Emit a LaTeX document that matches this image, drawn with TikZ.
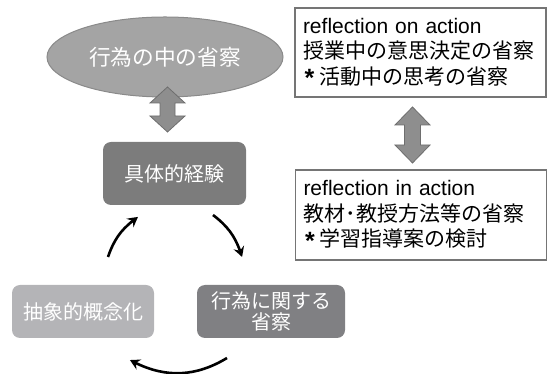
\documentclass[tikz,border=0pt]{standalone}
\usepackage{fontspec}
\setmainfont{Liberation Sans}
\newfontfamily\jp{Noto Sans CJK JP}
\usetikzlibrary{shapes.geometric,arrows.meta,bending}
\definecolor{ellfill}{HTML}{A4A4A4}
\definecolor{ellline}{HTML}{8A8A8A}
\definecolor{darkbox}{HTML}{7C7C7C}
\definecolor{midbox}{HTML}{808083}
\definecolor{lightbox}{HTML}{B4B4B7}
\definecolor{barrowfill}{HTML}{8E8E8E}
\definecolor{barrowline}{HTML}{6E6E6E}
\definecolor{frameline}{HTML}{757575}
\newcommand{\myast}{\makebox[16pt][l]{\hspace{1.5pt}\raisebox{-2.5pt}{\fontsize{25}{25}\selectfont\bfseries *}}}
\tikzset{
  ellnode/.style={ellipse, fill=ellfill, draw=ellline, line width=1pt, inner sep=0pt,
    minimum width=236pt, minimum height=80pt, text=white,
    font=\jp\fontsize{21.7}{24}\selectfont},
  greybox/.style={rectangle, rounded corners=8pt, inner sep=0pt, text=white,
    font=\jp\fontsize{20}{20.5}\selectfont, align=center},
  framebox/.style={rectangle, draw=frameline, line width=1.2pt, fill=white,
    inner xsep=8pt, inner ysep=0pt, text width=235pt, align=left,
    font=\fontsize{21}{25.5}\selectfont},
  blockarrow/.style={fill=barrowfill, draw=barrowline, line width=0.8pt, line join=miter},
  cyclearrow/.style={line width=2.6pt, black, -{Stealth[length=10pt,width=11pt,inset=3.5pt,bend]}},
}
\begin{document}
\begin{tikzpicture}[x=1pt,y=1pt]
\useasboundingbox (0,0) rectangle (548,374);
% nodes
\node[ellnode] (ell) at (165,317) {行為の中の省察};
\node[greybox, fill=darkbox, minimum width=143pt, minimum height=63pt] (exp) at (174.5,200.5) {具体的経験};
\node[greybox, fill=lightbox, minimum width=142pt, minimum height=53pt] (abs) at (83,62.5) {抽象的概念化};
\node[greybox, fill=midbox, minimum width=148pt, minimum height=53pt] (ref) at (271,62.5) {行為に関する\\省察};
\node[framebox, minimum height=89pt] (on) at (420.5,321.5) {reflection on action\\{\jp 授業中の意思決定の省察}\\\myast{\jp 活動中の思考の省察}};
\node[framebox, minimum height=90pt] (in) at (421,159) {reflection in action\\{\jp 教材･教授方法等の省察}\\\myast{\jp 学習指導案の検討}};
% block double arrows
\begin{scope}[shift={(167.5,264.5)}]
  \draw[blockarrow] (0,22.5) -- (17.5,6.5) -- (7.5,6.5) -- (7.5,-6.5) -- (17.5,-6.5) -- (0,-22.5)
    -- (-17.5,-6.5) -- (-7.5,-6.5) -- (-7.5,6.5) -- (-17.5,6.5) -- cycle;
\end{scope}
\begin{scope}[shift={(412.5,239)}]
  \draw[blockarrow] (0,28) -- (17.5,10) -- (8,10) -- (8,-10) -- (17.5,-10) -- (0,-28)
    -- (-17.5,-10) -- (-8,-10) -- (-8,10) -- (-17.5,10) -- cycle;
\end{scope}
% cycle arrows
\coordinate (a1s) at (108,117);
\coordinate (a1e) at (138,157);
\coordinate (a2s) at (213,159);
\coordinate (a2e) at (242,117);
\coordinate (a3s) at (227,16);
\coordinate (a3e) at (130,14);
\draw[cyclearrow] (a1s) to[bend left=18] (a1e);
\draw[cyclearrow] (a2s) to[bend left=18] (a2e);
\draw[cyclearrow] (a3s) to[bend left=30] (a3e);
\end{tikzpicture}
\end{document}
